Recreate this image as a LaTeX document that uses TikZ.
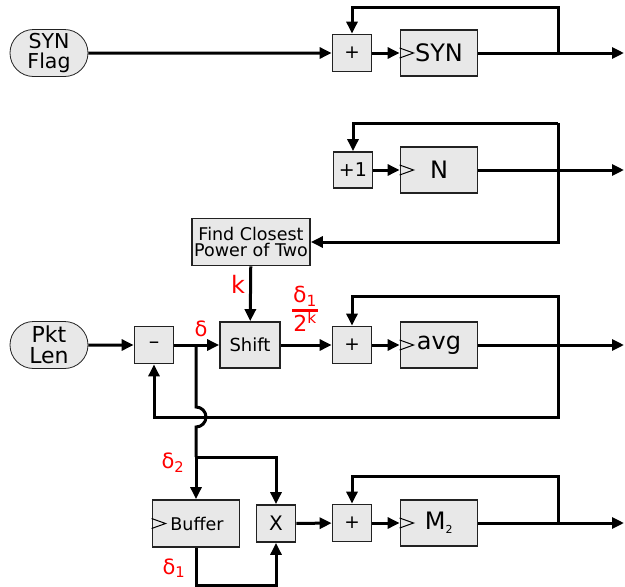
\documentclass[tikz,border=0pt]{standalone}
\usepackage{fontspec}
\setmainfont{DejaVu Sans}
\usetikzlibrary{arrows.meta,shapes.misc}

\definecolor{boxgray}{HTML}{E8E8E8}
\definecolor{edgegray}{HTML}{222222}

\tikzset{
  wire/.style={line width=3pt},
  tip/.style={-{Triangle[length=12pt,width=11pt]}},
  pill/.style={rounded rectangle, draw=edgegray, fill=boxgray, line width=0.8pt,
    minimum width=78pt, minimum height=47pt, inner sep=0pt, align=center},
  opbox/.style={rectangle, draw=edgegray, fill=boxgray, line width=1.8pt,
    minimum width=39pt, minimum height=37pt, inner sep=0pt, align=center,
    font=\fontsize{18.5}{18.5}\selectfont},
  regbox/.style={rectangle, draw=edgegray, fill=boxgray, line width=1.8pt,
    minimum width=77pt, minimum height=46pt, inner sep=0pt,
    font=\fontsize{24}{24}\selectfont},
  redlbl/.style={text=red, inner sep=0pt, font=\fontsize{21}{21}\selectfont},
}
\newcommand{\clk}[1]{\draw[line width=1pt] ([yshift=5pt]#1.west) -- ([xshift=14pt]#1.west) -- ([yshift=-5pt]#1.west);}

\begin{document}
\begin{tikzpicture}[x=1pt,y=-1pt]
\useasboundingbox (0,0) rectangle (625,587);

% =========================
% BLOCS
% =========================

\node[pill, font=\fontsize{20.5}{19.5}\selectfont] (synflag) at (49,53) {SYN\\Flag};
\node[opbox] (addsyn) at (352,53) {+};
\node[regbox] (regsyn) at (439,53) {SYN};

\node[opbox, minimum height=36pt, font=\fontsize{19}{19}\selectfont] (inc) at (353,170) {+1};
\node[regbox] (regn) at (439,170) {N};
\node[opbox, minimum width=118pt, minimum height=47pt, font=\fontsize{17.5}{16}\selectfont] (pow) at (251,242) {Find Closest\\Power of Two};

\node[pill, font=\fontsize{22}{21}\selectfont] (pktlen) at (49,345) {Pkt\\Len};
\node[opbox, font=\fontsize{21}{21}\selectfont] (sub) at (154,345) {--};
\node[opbox, minimum width=60pt, minimum height=46pt, font=\fontsize{18}{18}\selectfont] (shift) at (250,345) {Shift};
\node[opbox] (addavg) at (352,345) {+};
\node[regbox] (regavg) at (439,345) {avg};

\node[opbox, minimum width=87pt, minimum height=47pt, font=\fontsize{17.5}{17.5}\selectfont] (buf) at (196,523.5) {\hspace{2pt}Buffer};
\node[opbox, font=\fontsize{20}{20}\selectfont] (mul) at (276,523.5) {X};
\node[opbox] (addm) at (352,523) {+};
\node[regbox] (regm) at (439,523) {M\textsubscript{\fontsize{11}{11}\selectfont 2}};

\clk{regsyn}
\clk{regn}
\clk{regavg}
\clk{regm}
\clk{buf}

% =========================
% POINTS
% =========================

\coordinate (o1) at (624,53);
\coordinate (j1) at (558,53);
\coordinate (t1) at (558,7);

\coordinate (o2) at (624,170);
\coordinate (t2) at (558,123);
\coordinate (b2) at (558,242);

\coordinate (o3) at (624,345);
\coordinate (j3) at (558,345);
\coordinate (t3) at (558,296);
\coordinate (b3) at (558,417);
\coordinate (jd) at (196,345);
\coordinate (hop) at (196,407);
\coordinate (jd2) at (196,457);
\coordinate (bl) at (276,585);

\coordinate (o4) at (624,523);
\coordinate (j4) at (558,523);
\coordinate (t4) at (558,476);

% =========================
% LIAISONS
% =========================

% SYN
\draw[wire,tip] (synflag) -- (addsyn);
\draw[wire,tip] (addsyn) -- (regsyn);
\draw[wire,tip] (regsyn) -- (o1);
\draw[wire,tip] (j1) -- (t1) -| (addsyn.north);

% N
\draw[wire,tip] (inc) -- (regn);
\draw[wire,tip] (regn) -- (o2);
\draw[wire,tip] (t2) -| (inc.north);
\draw[wire,tip] (t2) -- (b2) -- (pow.east);

% avg
\draw[wire,tip] (pktlen) -- (sub);
\draw[wire,tip] (sub) -- (shift);
\draw[wire,tip] (pow) -- (shift);
\draw[wire,tip] (shift) -- (addavg);
\draw[wire,tip] (addavg) -- (regavg);
\draw[wire,tip] (regavg) -- (o3);
\draw[wire,tip] (j3) -- (t3) -| (addavg.north);
\draw[wire,tip] (j3) -- (b3) -| (sub.south);
\draw[wire] (jd) -- (hop) arc (90:-90:10pt) -- (jd2);

% M2
\draw[wire,tip] (jd2) -- (buf);
\draw[wire,tip] (jd2) -| (mul.north);
\draw[wire,tip] (buf.south) |- (bl) -- (mul.south);
\draw[wire,tip] (mul) -- (addm);
\draw[wire,tip] (addm) -- (regm);
\draw[wire,tip] (regm) -- (o4);
\draw[wire,tip] (j4) -- (t4) -| (addm.north);

% =========================
% LABELS
% =========================

\node[redlbl, font=\fontsize{24}{24}\selectfont] (lk) at (238,284) {k};
\node[redlbl] (ld) at (201,329) {δ};
\node[redlbl, font=\fontsize{22}{22}\selectfont] (lfrac) at (305,312) {\setlength{\tabcolsep}{1pt}\setlength{\arrayrulewidth}{2.5pt}%
  \begin{tabular}{c}δ\textsubscript{1}\\[0pt]\hline\rule{0pt}{19pt}2\textsuperscript{k}\end{tabular}};
\node[redlbl] (ld2) at (173,463) {δ\textsubscript{2}};
\node[redlbl] (ld1) at (174,568) {δ\textsubscript{1}};

\end{tikzpicture}
\end{document}
